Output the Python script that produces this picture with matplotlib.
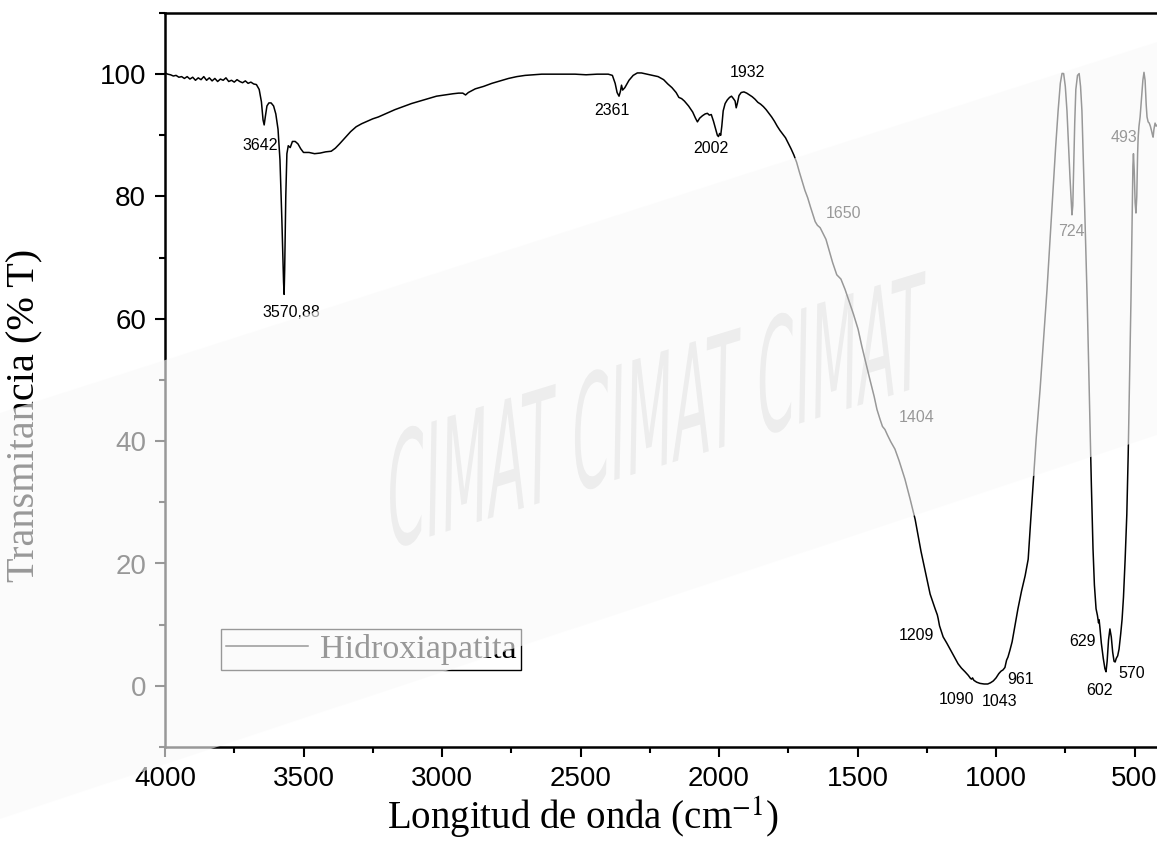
import matplotlib
matplotlib.use("Agg")
import matplotlib.pyplot as plt
from matplotlib.patches import Polygon, PathPatch
from matplotlib.textpath import TextPath
from matplotlib.transforms import Affine2D
from matplotlib.font_manager import FontProperties
from matplotlib.ticker import MultipleLocator

# FTIR spectrum of hydroxyapatite
wavenumber = [
    4000, 3990, 3980, 3970, 3960, 3950, 3940, 3930, 3920, 3910, 3900, 3890, 3880, 3870,
    3860, 3850, 3840, 3830, 3820, 3810, 3800, 3790, 3780, 3770, 3760, 3750, 3740, 3730,
    3720, 3710, 3700, 3690, 3680, 3670, 3660, 3652, 3646, 3642, 3638, 3632, 3625, 3617,
    3608, 3600, 3592, 3585, 3578, 3572, 3570, 3568, 3564, 3560, 3555, 3548, 3540, 3530,
    3520, 3510, 3500, 3480, 3460, 3440, 3420, 3400, 3385, 3370, 3350, 3330, 3310, 3290,
    3270, 3250, 3230, 3200, 3170, 3140, 3110, 3080, 3050, 3020, 2990, 2960, 2940, 2925,
    2915, 2905, 2880, 2850, 2820, 2790, 2760, 2730, 2700, 2670, 2640, 2600, 2560, 2520,
    2480, 2440, 2400, 2385, 2375, 2368, 2361, 2356, 2352, 2348, 2340, 2325, 2310, 2295,
    2280, 2260, 2240, 2220, 2200, 2185, 2170, 2155, 2145, 2135, 2125, 2110, 2095, 2085,
    2078, 2070, 2060, 2050, 2042, 2035, 2028, 2020, 2012, 2006, 2002, 1998, 1994, 1990,
    1985, 1978, 1970, 1962, 1955, 1948, 1942, 1938, 1934, 1928, 1920, 1910, 1900, 1890,
    1880, 1870, 1860, 1850, 1840, 1830, 1820, 1810, 1800, 1790, 1780, 1770, 1760, 1750,
    1740, 1730, 1720, 1710, 1700, 1690, 1680, 1670, 1660, 1653, 1645, 1635, 1625, 1614,
    1600, 1590, 1575, 1560, 1545, 1530, 1515, 1498, 1485, 1470, 1455, 1440, 1430, 1419,
    1410, 1401, 1392, 1380, 1365, 1350, 1329, 1310, 1292, 1271, 1250, 1238, 1220, 1212,
    1209, 1204, 1191, 1178, 1166, 1150, 1137, 1125, 1112, 1100, 1092, 1088, 1085, 1080,
    1070, 1058, 1043, 1030, 1020, 1010, 1000, 990, 982, 975, 968, 962, 957, 950,
    942, 932, 921, 908, 895, 884, 875, 866, 855, 841, 828, 816, 805, 794,
    785, 776, 768, 762, 756, 750, 744, 738, 733, 729, 726, 723, 720, 716,
    712, 706, 700, 695, 690, 686, 680, 675, 671, 666, 661, 656, 650, 645,
    639, 634, 630, 628, 625, 620, 613, 607, 603, 599, 594, 589, 584, 579,
    574, 570, 566, 561, 556, 550, 545, 540, 534, 528, 523, 518, 513, 509,
    506, 504, 501, 498, 495, 492, 489, 487, 484, 480, 475, 470, 466, 462,
    458, 455, 451, 447, 443, 439, 435, 433, 430, 426, 422, 418,
]
transmittance = [
    100.2, 100.0, 99.9, 99.7, 99.8, 99.5, 99.6, 99.3, 99.6, 99.2, 99.5, 99.0, 99.4, 99.1,
    99.6, 99.0, 99.4, 98.9, 99.3, 98.8, 99.2, 99.0, 99.4, 98.8, 99.0, 98.7, 99.1, 98.8,
    98.6, 98.9, 98.5, 98.7, 98.4, 98.3, 97.5, 95.5, 92.5, 91.7, 93.0, 94.8, 95.3, 95.3,
    94.8, 93.5, 91.0, 86.0, 76.0, 66.0, 64.0, 68.0, 80.0, 87.0, 88.3, 88.0, 89.0, 89.0,
    88.6, 87.8, 87.2, 87.2, 87.0, 87.1, 87.3, 87.4, 87.9, 88.6, 89.6, 90.6, 91.4, 91.9,
    92.3, 92.7, 93.0, 93.6, 94.2, 94.7, 95.2, 95.6, 96.0, 96.4, 96.6, 96.8, 96.9, 96.9,
    96.6, 97.0, 97.6, 98.0, 98.5, 98.9, 99.3, 99.6, 99.8, 99.9, 100.0, 100.0, 100.0, 100.0,
    99.9, 100.0, 100.0, 99.8, 98.5, 97.0, 96.4, 97.2, 98.2, 97.4, 97.8, 99.0, 99.8, 100.2,
    100.2, 100.0, 99.8, 99.6, 99.1, 98.4, 97.8, 97.0, 96.2, 96.0, 95.6, 94.8, 93.8, 92.8,
    92.2, 92.8, 93.2, 93.5, 93.6, 93.3, 93.4, 92.3, 91.0, 90.0, 89.8, 90.3, 90.0, 91.5,
    94.0, 95.2, 95.8, 96.2, 96.4, 96.0, 95.6, 94.5, 95.2, 96.5, 97.0, 97.1, 96.9, 96.6,
    96.3, 95.9, 95.4, 95.1, 94.7, 94.2, 93.6, 93.0, 92.3, 91.5, 90.8, 90.2, 89.6, 88.7,
    87.8, 86.8, 85.6, 84.0, 82.5, 81.0, 79.8, 78.3, 76.9, 75.9, 75.3, 74.9, 74.0, 73.0,
    70.8, 69.2, 67.2, 66.5, 64.8, 62.8, 60.8, 58.3, 55.6, 52.8, 50.0, 47.3, 45.2, 43.6,
    42.4, 41.9, 41.0, 39.9, 38.7, 36.8, 33.8, 30.5, 27.2, 22.0, 17.5, 15.0, 12.6, 11.6,
    11.0, 9.8, 8.0, 7.0, 6.0, 4.7, 3.6, 2.9, 2.3, 1.7, 1.2, 1.1, 1.3, 0.9,
    0.6, 0.4, 0.3, 0.3, 0.5, 0.8, 1.3, 2.0, 2.4, 2.6, 3.0, 4.2, 4.7, 5.8,
    7.2, 9.8, 12.6, 15.5, 18.0, 20.7, 27.0, 33.0, 40.5, 48.5, 57.0, 64.8, 73.0, 81.0,
    88.0, 94.0, 98.5, 100.1, 100.1, 98.0, 94.0, 88.0, 83.0, 79.5, 77.0, 78.5, 84.0, 92.0,
    97.5, 99.8, 100.1, 98.0, 94.0, 87.4, 78.0, 70.0, 63.0, 53.0, 43.6, 33.0, 22.4, 16.5,
    12.6, 11.5, 10.3, 10.8, 9.5, 7.0, 4.5, 2.8, 2.3, 4.0, 7.5, 9.3, 8.0, 5.5,
    4.0, 3.9, 4.5, 4.9, 6.0, 8.5, 10.9, 14.5, 20.7, 28.0, 37.8, 50.0, 63.0, 75.0,
    85.0, 87.0, 84.0, 79.0, 77.3, 80.0, 87.0, 89.7, 91.5, 93.0, 96.0, 99.0, 100.3, 99.0,
    95.0, 93.0, 92.2, 92.0, 91.5, 90.8, 90.0, 89.7, 91.0, 92.0, 91.5, 91.7,
]

# peak labels: text, wavenumber, transmittance of the label centre
peak_labels = ["3642", "3570,88", "2361", "2002", "1932", "1650", "1404", "1209",
               "1090", "1043", "961", "724", "629", "602", "570", "493"]
label_x = [3657, 3545, 2386, 2029, 1899, 1552, 1285, 1289,
           1144, 989, 910, 729, 689, 625, 509, 538]
label_y = [88.3, 61.0, 94.0, 87.9, 100.3, 77.3, 43.9, 8.3,
           -2.3, -2.6, 1.0, 74.2, 7.3, -0.8, 2.0, 89.7]

W, H = 1157, 865
fig = plt.figure(figsize=(W / 100, H / 100), dpi=100)
ax = fig.add_axes([165 / W, 1 - 747 / H, 1 - 165 / W, (747 - 13) / H])

sans = "Liberation Sans"
serif = "Liberation Serif"

ax.plot(wavenumber, transmittance, color="black", lw=1.1, label="Hidroxiapatita", zorder=3)
for t, x, y in zip(peak_labels, label_x, label_y):
    ax.text(x, y, t, ha="center", va="center", fontsize=11.5, family=sans, zorder=4)

ax.set_xlim(4000, 419)
ax.set_ylim(-10, 110)
ax.xaxis.set_major_locator(MultipleLocator(500))
ax.xaxis.set_minor_locator(MultipleLocator(250))
ax.yaxis.set_major_locator(MultipleLocator(20))
ax.yaxis.set_minor_locator(MultipleLocator(10))
ax.tick_params(which="major", direction="out", length=7.5, width=1.5, labelsize=20, pad=6)
ax.tick_params(which="minor", direction="out", length=4.5, width=1.5)
for lab in ax.get_xticklabels() + ax.get_yticklabels():
    lab.set_family(sans)
ax.spines["right"].set_visible(False)
for s in ["left", "bottom", "top"]:
    ax.spines[s].set_linewidth(1.8)

fig.text(583 / W, 1 - 818 / H, "Longitud de onda (cm$^{-1}$)", ha="center", va="center",
         fontsize=28, family=serif, math_fontfamily="stix")
fig.text(25 / W, 1 - 415 / H, "Transmitancia (% T)", ha="center", va="center",
         rotation=90, fontsize=29, family=serif)

leg = ax.legend(loc="upper left", bbox_to_anchor=((221 - 165) / 992, (747 - 629) / 734),
                prop={"family": serif, "size": 24.5}, frameon=True, fancybox=False,
                edgecolor="black", framealpha=1, handlelength=2.4, handletextpad=0.35,
                borderpad=0.15, borderaxespad=0)
leg.get_frame().set_linewidth(1.0)

# faint watermark text
tp = TextPath((0, 0), "CIMAT CIMAT CIMAT", size=1, prop=FontProperties(family="DejaVu Sans"))
wm_tr = Affine2D().scale(57, 150).skew_deg(18, 0).rotate_deg(17).translate(386, H - 550)
ax.add_artist(PathPatch(tp, transform=wm_tr, facecolor="0.86", edgecolor="none", zorder=1))

# translucent diagonal band of the watermark
band = [(0, 413), (W, 42), (W, 435), (0, 819)]
fig.add_artist(Polygon([(x / W, 1 - y / H) for x, y in band], closed=True,
                       transform=fig.transFigure, facecolor="0.98", edgecolor="none",
                       alpha=0.61, zorder=10))

fig.savefig("out.png", dpi=100)
